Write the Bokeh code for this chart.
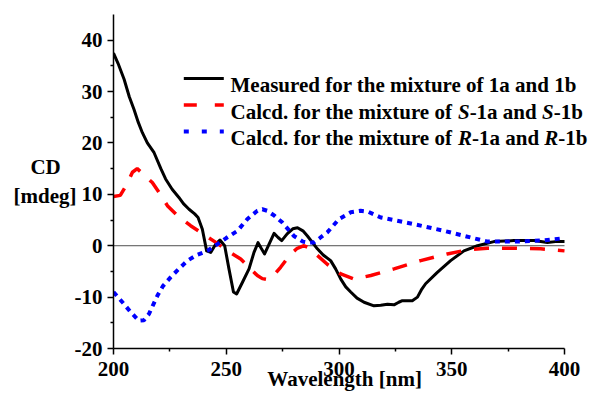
from bokeh.plotting import figure
from bokeh.models import Range1d, FixedTicker, Label
from bokeh.embed import file_html
from bokeh.resources import INLINE

# ---------------- data ----------------
meas_wl = [200, 202, 204.7, 207, 209.1, 211, 212.8, 215, 218, 221, 223.1, 226, 229, 231,
           233.5, 236, 237.5, 239.4, 241.3, 243.1, 245.3, 247.2, 249.3, 251.2, 253.2, 254.6,
           257.2, 260.1, 262.3, 264.1, 265.5, 267, 269, 271.2, 273, 274.6, 277, 279.5, 281.6,
           284, 286, 290.4, 293, 296.3, 298.5, 300.8, 303, 305.2, 308, 311.1, 315.5, 318.5,
           321.5, 324.4, 326.5, 328.1, 332.5, 334.8, 336.5, 338.4, 343.6, 349.5, 355.4, 361.4,
           368.7, 377.6, 386.5, 392.4, 396, 400]
meas_cd = [37.5, 35.5, 32.4, 29, 26.5, 24, 22, 20, 18.1, 15, 13, 11, 9.4, 8.2,
           7.1, 6.2, 5.5, 3.2, -1.0, -1.3, 0.3, 1.1, 0, -4.5, -9, -9.4,
           -7.1, -4.5, -1.3, 0.6, -0.5, -1.6, 0.3, 2.4, 1.6, 1.0, 2.3, 3.3, 3.5,
           2.9, 1.9, -0.6, -1.8, -2.9, -4.5, -6.5, -8, -9, -10.2, -11, -11.7, -11.6,
           -11.4, -11.5, -11.0, -10.7, -10.7, -10, -8.6, -7.4, -5.2, -2.9, -1, 0,
           0.8, 1.0, 1.0, 0.65, 0.8, 0.8]

s_wl = [200, 203, 206, 208.4, 210.5, 213, 217.2, 220, 223.9, 228, 234.2, 240, 245.4, 250,
        256.4, 263.8, 266, 268.5, 271, 274.1, 278.6, 281.5, 284.5, 286.5, 288.9, 294.8,
        300.8, 306.7, 314.1, 324.4, 336.2, 348, 356.9, 365.8, 377.6, 389.4, 400]
s_cd = [9.6, 9.8, 12, 14.3, 15, 14, 12.3, 10.5, 7.8, 6, 3.9, 2.2, 0.65, -0.8,
        -2.6, -5.8, -6.4, -6.6, -5.8, -4.2, -1.6, -0.5, 0, -0.4, -1.3, -3.6,
        -5.5, -6.5, -5.8, -4.5, -2.9, -1.6, -0.8, -0.5, -0.5, -0.6, -1.0]

r_wl = [200, 203, 207.6, 211.3, 213.5, 215.7, 219.5, 222, 225.4, 229, 232.8, 237, 241.6,
        246.1, 250, 255, 259.4, 263.8, 266, 268.2, 271.5, 274.9, 280, 284, 286, 288.9,
        291.5, 294.8, 300, 305.2, 309.6, 313, 318.5, 333.3, 346.6, 358.4, 365.8, 377.6,
        389.4, 398.3, 400]
r_cd = [-9, -10.5, -12.9, -14.6, -14.5, -13.3, -9.7, -7.8, -6.1, -4.5, -2.9, -1.8, -1.0,
        0.3, 1.5, 2.9, 5.2, 6.8, 7.1, 6.8, 5.8, 4.5, 1.9, 0.8, 0.65, 0.65,
        1.5, 2.6, 5.2, 6.5, 6.8, 6.6, 5.5, 4.2, 2.9, 1.6, 0.8, 0.8,
        1.0, 1.4, 1.4]

x_ticks = [200, 250, 300, 350, 400]
x_minor = [225, 275, 325, 375]
y_ticks = [-20, -10, 0, 10, 20, 30, 40]
y_minor = [-15, -5, 5, 15, 25, 35]

# ---------------- layout ----------------
W, H = 591, 396
BL, BR, BT, BB = 113, 0, 14, 48
X0, X1, Y0, Y1 = 200, 400, -20, 45
AXW = 451  # pixels spanned by 200..400
FONT = "Liberation Serif"
FS = "21px"
NB = "\u00a0"

FW = W - BL - BR
X_END = X0 + FW / AXW * (X1 - X0)

p = figure(width=W, height=H, output_backend="svg", toolbar_location=None,
           x_range=Range1d(X0, X_END), y_range=Range1d(Y0, Y1),
           min_border_left=BL, min_border_right=BR, min_border_top=BT, min_border_bottom=BB)
p.outline_line_color = None
p.grid.visible = False
p.background_fill_color = "white"

for ax in (p.xaxis[0], p.yaxis[0]):
    ax.axis_line_width = 1.5
    ax.axis_line_color = "black"
    ax.major_tick_line_width = 1.5
    ax.minor_tick_line_width = 1.5
    ax.major_tick_out = 6
    ax.major_tick_in = 0
    ax.minor_tick_out = 3
    ax.minor_tick_in = 0
    ax.major_label_text_font = FONT
    ax.major_label_text_font_style = "bold"
    ax.major_label_text_font_size = FS
    ax.major_label_text_color = "black"
    ax.major_label_standoff = 5
    ax.axis_label_text_font = FONT
    ax.axis_label_text_font_style = "bold"
    ax.axis_label_text_font_size = FS
    ax.axis_label_text_color = "black"

p.xaxis.major_label_standoff = 7
p.xaxis.bounds = (X0, X1)
p.xaxis.ticker = FixedTicker(ticks=x_ticks, minor_ticks=x_minor)
p.yaxis.ticker = FixedTicker(ticks=y_ticks, minor_ticks=y_minor)
p.yaxis.major_label_overrides = {v: str(v) for v in y_ticks}
p.xaxis.major_label_overrides = {v: str(v) for v in x_ticks}

p.xaxis.axis_label = "Wavelength [nm]" + NB * 3
p.xaxis.axis_label_standoff = -12
p.yaxis.axis_label = "CD" + NB * 3 + "\n[mdeg]"
p.yaxis.axis_label_orientation = "horizontal"
p.yaxis.axis_label_standoff = -5

# zero reference line across the axis extent
p.line([X0, X1], [0, 0], line_color="#505050", line_width=1)

p.line(meas_wl, meas_cd, line_color="black", line_width=3, line_join="round")
p.line(s_wl, s_cd, line_color="#ff0000", line_width=3.5, line_dash="15 13")
p.line(r_wl, r_cd, line_color="#0000ff", line_width=4, line_dash="5 5")

# pixel -> data helpers for legend placement
FL = BL
FT = BT
FH = H - BT - BB


def px2x(px):
    return X0 + (px - FL) / AXW * (X1 - X0)


def px2y(py):
    return Y1 - (py - FT) / FH * (Y1 - Y0)


LFS = 21.0


def lab(px, py, text, align="left", style="bold"):
    p.add_layout(Label(x=px2x(px), y=px2y(py), text=text, text_font=FONT,
                       text_font_style=style, text_font_size=f"{LFS}px", text_color="black",
                       text_align=align, text_baseline="alphabetic"))


# legend
widths = {" ": 250, ".": 250, "-": 333, "1": 500, "a": 500, "b": 556, "c": 444, "d": 556,
          "e": 444, "f": 333, "h": 556, "i": 278, "l": 278, "m": 833, "n": 556, "o": 500,
          "r": 444, "t": 333, "u": 556, "x": 500, "C": 722, "M": 944, "s": 389}
ital = {"S": 556, "R": 667}


def seg_width(t, italic=False):
    tab = ital if italic else widths
    return sum(tab.get(ch, 500) for ch in t) / 1000 * LFS


rows = [
    ("black", 3, None, [("Measured for the mixture of 1a and 1b", False)]),
    ("#ff0000", 3.5, "13 18", [("Calcd. for the mixture of ", False), ("S", True),
                               ("-1a and ", False), ("S", True), ("-1b", False)]),
    ("#0000ff", 4, "5 13", [("Calcd. for the mixture of ", False), ("R", True),
                            ("-1a and ", False), ("R", True), ("-1b", False)]),
]
row_y = [78, 104.5, 131]
base_off = 6.5
for (col, lw, dash, segs), yy in zip(rows, row_y):
    kw = dict(line_color=col, line_width=lw)
    if dash:
        kw["line_dash"] = dash
    p.line([px2x(183.3), px2x(223.3)], [px2y(yy), px2y(yy)], **kw)
    xx = 230
    for t, it in segs:
        lab(xx, yy + base_off, t, style="bold italic" if it else "bold")
        xx += seg_width(t, it)

open("out.html", "w").write(file_html(p, INLINE))
